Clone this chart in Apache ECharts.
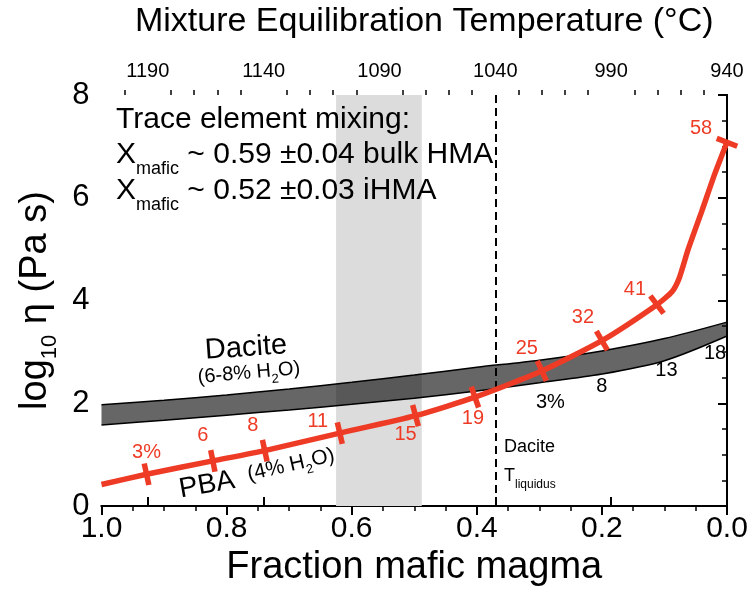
<!DOCTYPE html>
<html><head><meta charset="utf-8">
<script src="https://cdn.jsdelivr.net/npm/echarts@6/dist/echarts.min.js"></script>
<style>html,body{margin:0;padding:0;background:#fff}#c{width:751px;height:592px}</style>
</head><body><div id="c"></div>
<script>
const FONT = '"Liberation Sans", Arial, Helvetica, sans-serif';
const RED = '#ee3b26';

// ---- data ----
const tempTicks = [940, 990, 1040, 1090, 1140, 1190];
const tempMinorTicks = [950, 960, 970, 980, 1000, 1010, 1020, 1030, 1050, 1060, 1070, 1080,
  1100, 1110, 1120, 1130, 1150, 1160, 1170, 1180, 1200];
const tempAtFrac0 = 940, tempAtFrac1 = 1210;
const daciteLiquidusT = 1040;
const mixRange = [0.625, 0.488];

const dacX     = [1.0, 0.9, 0.8, 0.7, 0.6, 0.5, 0.4, 0.3, 0.2, 0.1, 0.0];
const dacLower = [1.58, 1.67, 1.77, 1.87, 1.98, 2.10, 2.24, 2.40, 2.57, 2.83, 3.31];
const dacUpper = [1.97, 2.06, 2.16, 2.28, 2.41, 2.55, 2.70, 2.84, 3.02, 3.26, 3.58];
const dacCrystX = [0.3, 0.2, 0.1, 0.0];
const dacCrystLabels = ['3%', '8', '13', '18'];

const pbaX = [1.0, 0.928, 0.822, 0.739, 0.619, 0.498, 0.403, 0.296, 0.2, 0.112, 0.088, 0.076, 0.062, 0.04, 0.02, 0.0];
const pbaY = [0.42, 0.62, 0.88, 1.08, 1.42, 1.76, 2.12, 2.63, 3.22, 3.92, 4.17, 4.45, 5.0, 5.75, 6.45, 7.08];
const pbaTickX = [0.928, 0.822, 0.739, 0.619, 0.498, 0.403, 0.296, 0.2, 0.112, 0.0];
const pbaTickLabels = ['3%', '6', '8', '11', '15', '19', '25', '32', '41', '58'];

// ---- label placement (styling) ----
const redLabelOffset = {'3%':[0,-22],'6':[-10,-25],'8':[-12,-25],'11':[-22,-12],'15':[-10,19],
  '19':[-2,21],'25':[-15,-22],'32':[-19,-23],'41':[-22,-15],'58':[-26,-14]};
const blackLabelOffset = {'3%':[11,20],'8':[0,12],'13':[2,10],'18':[-12,17]};

const zip = (a, b) => a.map((v, i) => [v, b[i]]);
const lookup = (xs, ys, x) => ys[xs.indexOf(x)];
function interp(xs, ys, x) {
  for (let i = 0; i < xs.length - 1; i++) {
    const a = xs[i], b = xs[i + 1];
    if ((x <= a && x >= b)) { const t = (x - a) / (b - a); return ys[i] + t * (ys[i + 1] - ys[i]); }
  }
  return x > xs[0] ? ys[0] : ys[ys.length - 1];
}

const chart = echarts.init(document.getElementById('c'), null, {renderer: 'canvas'});
const axisLineStyle = {color: '#000', width: 2};
const richSub = (big, small, lh) => ({
  x: {fontSize: big, fontFamily: FONT, fill: '#000', color: '#000', lineHeight: lh, verticalAlign: 'middle'},
  s: {fontSize: small, fontFamily: FONT, fill: '#000', color: '#000', lineHeight: lh, verticalAlign: 'bottom'}
});

function tickData(rots) {
  return pbaTickX.map((x, i) => ({value: [x, lookup(pbaX, pbaY, x)], symbolRotate: rots ? rots[i] : 0,
    label: {show: true, formatter: pbaTickLabels[i], position: 'inside',
      offset: redLabelOffset[pbaTickLabels[i]], fontSize: 20, color: RED, fontFamily: FONT}}));
}

const option = {
  animation: false,
  backgroundColor: '#fff',
  textStyle: {fontFamily: FONT},
  grid: {left: 101.5, right: 24, top: 91, bottom: 85, containLabel: false},
  xAxis: [
    {
      type: 'value', min: 0, max: 1, interval: 0.2, inverse: true, position: 'bottom',
      axisLine: {lineStyle: axisLineStyle},
      axisTick: {length: 9, lineStyle: {color: '#000', width: 2}},
      minorTick: {show: true, splitNumber: 4, length: 5, lineStyle: {color: '#000', width: 1.5}},
      splitLine: {show: false},
      axisLabel: {fontSize: 30, color: '#000', margin: 8, fontFamily: FONT, formatter: v => v.toFixed(1)},
      name: 'Fraction mafic magma', nameLocation: 'middle', nameGap: 38,
      nameTextStyle: {fontSize: 38, color: '#000', fontFamily: FONT}
    },
    {
      type: 'value', min: tempAtFrac0, max: tempAtFrac1, inverse: true, position: 'top',
      axisLine: {lineStyle: axisLineStyle},
      axisTick: {length: 9, customValues: tempTicks, lineStyle: {color: '#000', width: 2}},
      splitLine: {show: false},
      axisLabel: {fontSize: 20, color: '#000', margin: 14, fontFamily: FONT, customValues: tempTicks,
        formatter: v => String(v)},
      name: 'Mixture Equilibration Temperature (°C)', nameLocation: 'middle', nameGap: 56,
      nameTextStyle: {fontSize: 34, color: '#000', fontFamily: FONT, padding: [0, 0, 0, 20]}
    },
    {
      type: 'value', min: tempAtFrac0, max: tempAtFrac1, inverse: true, position: 'top',
      axisLine: {show: false},
      axisTick: {length: 5, customValues: tempMinorTicks, lineStyle: {color: '#000', width: 1.5}},
      axisLabel: {show: false}, splitLine: {show: false}
    },
    {
      type: 'category', data: dacX.map(String), boundaryGap: false, show: false, position: 'bottom'
    }
  ],
  yAxis: [
    {
      type: 'value', min: 0, max: 8, interval: 2,
      axisLine: {show: true, lineStyle: axisLineStyle},
      axisTick: {show: true, length: 9, lineStyle: {color: '#000', width: 2}},
      minorTick: {show: true, splitNumber: 4, length: 5, lineStyle: {color: '#000', width: 1.5}},
      splitLine: {show: false},
      axisLabel: {fontSize: 31, color: '#000', margin: 12, fontFamily: FONT},
      name: '{a|log}{b|10}{a| η (Pa s)}', nameLocation: 'middle', nameGap: 36, nameRotate: 90,
      nameTextStyle: {color: '#000', rich: {
        a: {fontSize: 38, fontFamily: FONT, color: '#000', lineHeight: 52, verticalAlign: 'middle'},
        b: {fontSize: 22, fontFamily: FONT, color: '#000', lineHeight: 52, verticalAlign: 'bottom'}
      }}
    },
    {
      type: 'value', min: 0, max: 8, position: 'right',
      axisLine: {show: true, lineStyle: axisLineStyle},
      axisTick: {show: false}, axisLabel: {show: false}, splitLine: {show: false}
    }
  ],
  series: [
    {
      type: 'line', xAxisIndex: 0, yAxisIndex: 0, data: [], silent: true, z: 0,
      markArea: {silent: true, itemStyle: {color: '#dcdcdc'},
        data: [[{xAxis: mixRange[0]}, {xAxis: mixRange[1]}]]}
    },
    {
      type: 'line', xAxisIndex: 1, yAxisIndex: 0, data: [], silent: true, z: 1,
      markLine: {silent: true, symbol: 'none', label: {show: false},
        lineStyle: {color: '#000', width: 2, type: [8, 5]},
        data: [{xAxis: daciteLiquidusT}]}
    },
    {
      name: 'dacLower', type: 'line', xAxisIndex: 3, yAxisIndex: 0, stack: 'dac', smooth: 0.3,
      symbol: 'none', data: dacLower, lineStyle: {color: '#000', width: 1.5}, z: 3
    },
    {
      name: 'dacBand', type: 'line', xAxisIndex: 3, yAxisIndex: 0, stack: 'dac', smooth: 0.3,
      symbol: 'none', data: dacUpper.map((u, i) => +(u - dacLower[i]).toFixed(3)),
      lineStyle: {color: '#000', width: 1.5}, areaStyle: {color: 'rgba(0,0,0,0.6)', opacity: 1}, z: 3
    },
    {
      name: 'dacCryst', type: 'scatter', xAxisIndex: 0, yAxisIndex: 0, symbolSize: 0, z: 4,
      itemStyle: {opacity: 1},
      data: dacCrystX.map((x, i) => ({value: [x, lookup(dacX, dacLower, x)],
        label: {show: true, formatter: dacCrystLabels[i], position: 'inside',
          offset: blackLabelOffset[dacCrystLabels[i]], fontSize: 20, color: '#000', fontFamily: FONT}})),
      clip: false
    },
    {
      name: 'PBA', type: 'line', xAxisIndex: 0, yAxisIndex: 0, smooth: 0.2, symbol: 'none',
      data: zip(pbaX, pbaY), lineStyle: {color: RED, width: 5.5, cap: 'butt'}, z: 5
    },
    {
      name: 'pbaTicks', type: 'scatter', xAxisIndex: 0, yAxisIndex: 0, symbol: 'rect',
      symbolSize: [5.5, 22], itemStyle: {color: RED, opacity: 1}, z: 6, clip: false,
      data: tickData(null)
    }
  ],
  graphic: [
    {type: 'text', z: 100, x: 116, y: 120, style: {text: 'Trace element mixing:', fontSize: 30, fontFamily: FONT,
      fill: '#000', verticalAlign: 'middle', align: 'left'}},
    {type: 'text', z: 100, x: 116, y: 155, style: {text: '{x|X}{s|mafic}{x| ~ 0.59 ±0.04 bulk HMA}',
      verticalAlign: 'middle', align: 'left', rich: richSub(30, 18, 46)}},
    {type: 'text', z: 100, x: 116, y: 191, style: {text: '{x|X}{s|mafic}{x| ~ 0.52 ±0.03 iHMA}',
      verticalAlign: 'middle', align: 'left', rich: richSub(30, 18, 46)}},
    {type: 'text', z: 100, x: 246, y: 348, rotation: 4 * Math.PI / 180, style: {text: 'Dacite', fontSize: 29,
      fontFamily: FONT, fill: '#000', align: 'center', verticalAlign: 'middle'}},
    {type: 'text', z: 100, x: 249, y: 373, rotation: 5 * Math.PI / 180, style: {text: '{x|(6-8% H}{s|2}{x|O)}',
      align: 'center', verticalAlign: 'middle', rich: richSub(20, 13, 30)}},
    {type: 'text', z: 100, x: 207, y: 485, rotation: 10 * Math.PI / 180, style: {text: 'PBA', fontSize: 28,
      fontFamily: FONT, fill: '#000', align: 'center', verticalAlign: 'middle'}},
    {type: 'text', z: 100, x: 291, y: 465, rotation: 13 * Math.PI / 180, style: {text: '{x|(4% H}{s|2}{x|O)}',
      align: 'center', verticalAlign: 'middle', rich: richSub(21, 13, 30)}},
    {type: 'text', z: 100, x: 504, y: 447, style: {text: 'Dacite', fontSize: 18, fontFamily: FONT, fill: '#000',
      align: 'left', verticalAlign: 'middle'}},
    {type: 'text', z: 100, x: 504, y: 476, style: {text: '{x|T}{s|liquidus}', align: 'left', verticalAlign: 'middle',
      rich: richSub(18, 12, 30)}}
  ]
};
chart.setOption(option);

// rotate the red tick marks perpendicular to the PBA curve using pixel geometry
const rots = pbaTickX.map(x => {
  const x1 = Math.min(1, x + 0.012), x2 = Math.max(0, x - 0.012);
  const p1 = chart.convertToPixel({gridIndex: 0}, [x1, interp(pbaX, pbaY, x1)]);
  const p2 = chart.convertToPixel({gridIndex: 0}, [x2, interp(pbaX, pbaY, x2)]);
  return Math.atan2(-(p2[1] - p1[1]), p2[0] - p1[0]) * 180 / Math.PI;
});
chart.setOption({series: [{}, {}, {}, {}, {}, {}, {data: tickData(rots)}]});
</script></body></html>
